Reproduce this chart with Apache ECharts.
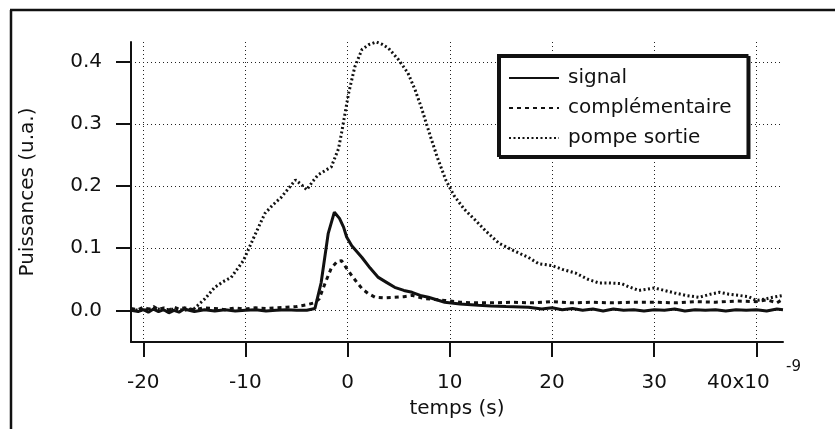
<!DOCTYPE html>
<html>
<head>
<meta charset="utf-8">
<script src="https://cdn.jsdelivr.net/npm/echarts@6/dist/echarts.min.js"></script>
<style>
  html, body { margin: 0; padding: 0; background: #fff; }
  #chart { width: 835px; height: 429px; }
</style>
</head>
<body>
<div id="chart"></div>
<script>
// ---- Data (time in ns, power in arbitrary units) ----
const xTicks = [-20, -10, 0, 10, 20, 30, 40];
const yTicks = [0, 0.1, 0.2, 0.3, 0.4];
const seriesNames = ['signal', 'complémentaire', 'pompe sortie'];

const signal = [
  [-21.2,0.000],[-20.5,-0.002],[-20,0.001],[-19.5,-0.003],[-19,0.002],[-18.5,-0.002],[-18,0.001],
  [-17.5,-0.004],[-17,0.000],[-16.5,-0.003],[-16,0.002],[-15,-0.002],[-14,0.001],[-13,-0.001],
  [-12,0.001],[-11,-0.001],[-10,0.000],[-9,0.001],[-8,-0.001],[-7,0.000],[-6,0.001],[-5,0.000],
  [-4,0.000],[-3.2,0.003],[-2.6,0.044],[-1.9,0.124],[-1.3,0.158],[-0.8,0.148],[-0.4,0.134],
  [-0.1,0.118],[0.4,0.104],[1.4,0.085],[2.2,0.068],[3,0.053],[3.8,0.045],[4.6,0.037],[5.5,0.032],
  [6.3,0.029],[7.1,0.024],[7.9,0.021],[8.7,0.017],[9.5,0.013],[11,0.010],[12.8,0.008],[14,0.007],
  [15.5,0.006],[17.7,0.005],[19,0.002],[20,0.004],[21,0.001],[22,0.003],[23,0.000],[24,0.002],
  [25,-0.001],[26,0.002],[27,0.000],[28,0.001],[29,-0.001],[30,0.001],[31,0.000],[32,0.002],
  [33,-0.001],[34,0.001],[35,0.000],[36,0.001],[37,-0.001],[38,0.001],[39,0.000],[40,0.001],
  [41,-0.001],[42,0.002],[42.6,0.001]
];

const complementaire = [
  [-21.2,0.003],[-20.5,0.001],[-20,0.005],[-19.5,0.002],[-19,0.006],[-18.5,0.001],[-18,0.004],
  [-17.5,0.000],[-17,0.005],[-16.5,0.002],[-16,0.004],[-15,0.001],[-14,0.004],[-13,0.003],
  [-12,0.001],[-11,0.004],[-10,0.002],[-9,0.004],[-8,0.003],[-7,0.004],[-6,0.005],[-5,0.006],
  [-4,0.009],[-3.3,0.012],[-2.8,0.018],[-2.2,0.044],[-1.6,0.068],[-1.0,0.079],[-0.6,0.080],
  [-0.2,0.070],[0.4,0.056],[0.9,0.045],[1.4,0.035],[2.0,0.027],[2.7,0.021],[3.5,0.020],[4.6,0.021],
  [5.5,0.022],[6.3,0.024],[7.5,0.019],[9.5,0.016],[11,0.013],[12.5,0.012],[14,0.012],[16,0.013],
  [18,0.012],[20,0.014],[22,0.012],[24,0.013],[26,0.012],[28,0.013],[30,0.013],[32,0.012],
  [34,0.014],[36,0.013],[38,0.015],[40,0.014],[41,0.017],[42,0.012],[42.6,0.018]
];

const pompeSortie = [
  [-21.2,0.001],[-20,0.000],[-19,0.003],[-18,0.001],[-17,0.002],[-16,0.000],[-15,0.003],
  [-14,0.018],[-13,0.037],[-12.2,0.046],[-11.4,0.053],[-10.2,0.080],[-9,0.124],[-8.1,0.156],
  [-7.3,0.170],[-6.5,0.182],[-5.6,0.200],[-5.1,0.210],[-4.5,0.202],[-4,0.194],[-3.4,0.208],
  [-2.9,0.218],[-2.2,0.225],[-1.6,0.231],[-0.9,0.260],[-0.6,0.285],[0.1,0.350],[0.7,0.392],
  [1.4,0.420],[2.1,0.428],[2.8,0.432],[3.4,0.428],[4,0.422],[5,0.403],[5.9,0.382],[6.6,0.355],
  [7.2,0.327],[8.1,0.280],[8.8,0.245],[9.6,0.210],[10.4,0.185],[11.4,0.163],[12.5,0.145],
  [13.5,0.128],[14.8,0.108],[16,0.098],[17.7,0.085],[18.7,0.075],[20,0.072],[21,0.066],
  [22.3,0.060],[23.5,0.050],[24.6,0.044],[25.5,0.044],[26.8,0.043],[27.5,0.038],[28.5,0.032],
  [30,0.036],[31,0.032],[32,0.028],[33.1,0.024],[34.4,0.021],[35.5,0.026],[36.4,0.029],
  [37.3,0.026],[38.3,0.024],[39.2,0.022],[40,0.016],[40.8,0.018],[41.6,0.021],[42.6,0.024]
];

// ---- Chart ----
const FONT = '"DejaVu Sans", Verdana, sans-serif';
const INK = '#111';
const chart = echarts.init(document.getElementById('chart'), null, { renderer: 'canvas' });

const gridLine = { show: true, lineStyle: { color: '#222', width: 1, type: [1, 3] } };

chart.setOption({
  animation: false,
  backgroundColor: '#fff',
  color: [INK, INK, INK],
  textStyle: { fontFamily: FONT, color: INK },
  grid: { left: 131, right: 52, top: 42, bottom: 87, containLabel: false },
  xAxis: {
    type: 'value',
    min: -21.2, max: 42.6,
    name: 'temps (s)',
    nameLocation: 'middle',
    nameGap: 57,
    nameTextStyle: { fontFamily: FONT, fontSize: 20, color: INK },
    axisLine: { show: true, onZero: false, lineStyle: { color: INK, width: 2 } },
    axisTick: { show: true, inside: false, length: 15, customValues: xTicks, lineStyle: { color: INK, width: 2 } },
    axisLabel: {
      show: true, customValues: xTicks, margin: 31, fontFamily: FONT, fontSize: 20, color: INK,
      formatter: function (v) { return v === 40 ? '{s|40x10}' : String(v); },
      rich: { s: { fontFamily: FONT, fontSize: 20, color: INK, padding: [0, 36, 0, 0] } }
    },
    splitLine: gridLine
  },
  yAxis: {
    type: 'value',
    min: -0.051, max: 0.432,
    name: 'Puissances (u.a.)',
    nameLocation: 'middle',
    nameGap: 93,
    nameTextStyle: { fontFamily: FONT, fontSize: 20, color: INK },
    axisLine: { show: true, onZero: false, lineStyle: { color: INK, width: 2 } },
    axisTick: { show: true, inside: false, length: 15, customValues: yTicks, lineStyle: { color: INK, width: 2 } },
    axisLabel: {
      show: true, customValues: yTicks, margin: 29, fontFamily: FONT, fontSize: 20, color: INK,
      formatter: function (v) { return v.toFixed(1); }
    },
    splitLine: gridLine
  },
  legend: {
    orient: 'vertical',
    left: 498, top: 55,
    data: seriesNames,
    itemWidth: 50, itemHeight: 14,
    itemGap: 10,
    padding: [13, 16, 8, 10],
    backgroundColor: '#fff',
    borderColor: INK, borderWidth: 2, borderRadius: 0,
    shadowColor: INK, shadowBlur: 0, shadowOffsetX: 2, shadowOffsetY: 2,
    itemStyle: { color: 'rgba(0,0,0,0)', borderWidth: 0, opacity: 0 },
    textStyle: { fontFamily: FONT, fontSize: 20, color: INK, lineHeight: 20, padding: [0, 0, 0, 4] }
  },
  series: [
    {
      name: seriesNames[0], type: 'line', data: signal, showSymbol: false, symbol: 'none',
      itemStyle: { color: INK },
      lineStyle: { color: INK, width: 3, type: 'solid' }, z: 5
    },
    {
      name: seriesNames[1], type: 'line', data: complementaire, showSymbol: false, symbol: 'none',
      itemStyle: { color: INK },
      lineStyle: { color: INK, width: 3, type: [4, 4] }, z: 4
    },
    {
      name: seriesNames[2], type: 'line', data: pompeSortie, showSymbol: false, symbol: 'none',
      itemStyle: { color: INK },
      lineStyle: { color: INK, width: 3, type: [2, 2.5] }, z: 3
    }
  ],
  graphic: [
    { type: 'line', shape: { x1: 10, y1: 10, x2: 835, y2: 10 }, style: { stroke: INK, lineWidth: 2.5 }, silent: true },
    { type: 'line', shape: { x1: 11, y1: 10, x2: 11, y2: 429 }, style: { stroke: INK, lineWidth: 2.5 }, silent: true },
    { type: 'text', left: 786, top: 360, style: { text: '-9', font: '15px ' + FONT, fill: INK }, silent: true }
  ]
});
</script>
</body>
</html>
